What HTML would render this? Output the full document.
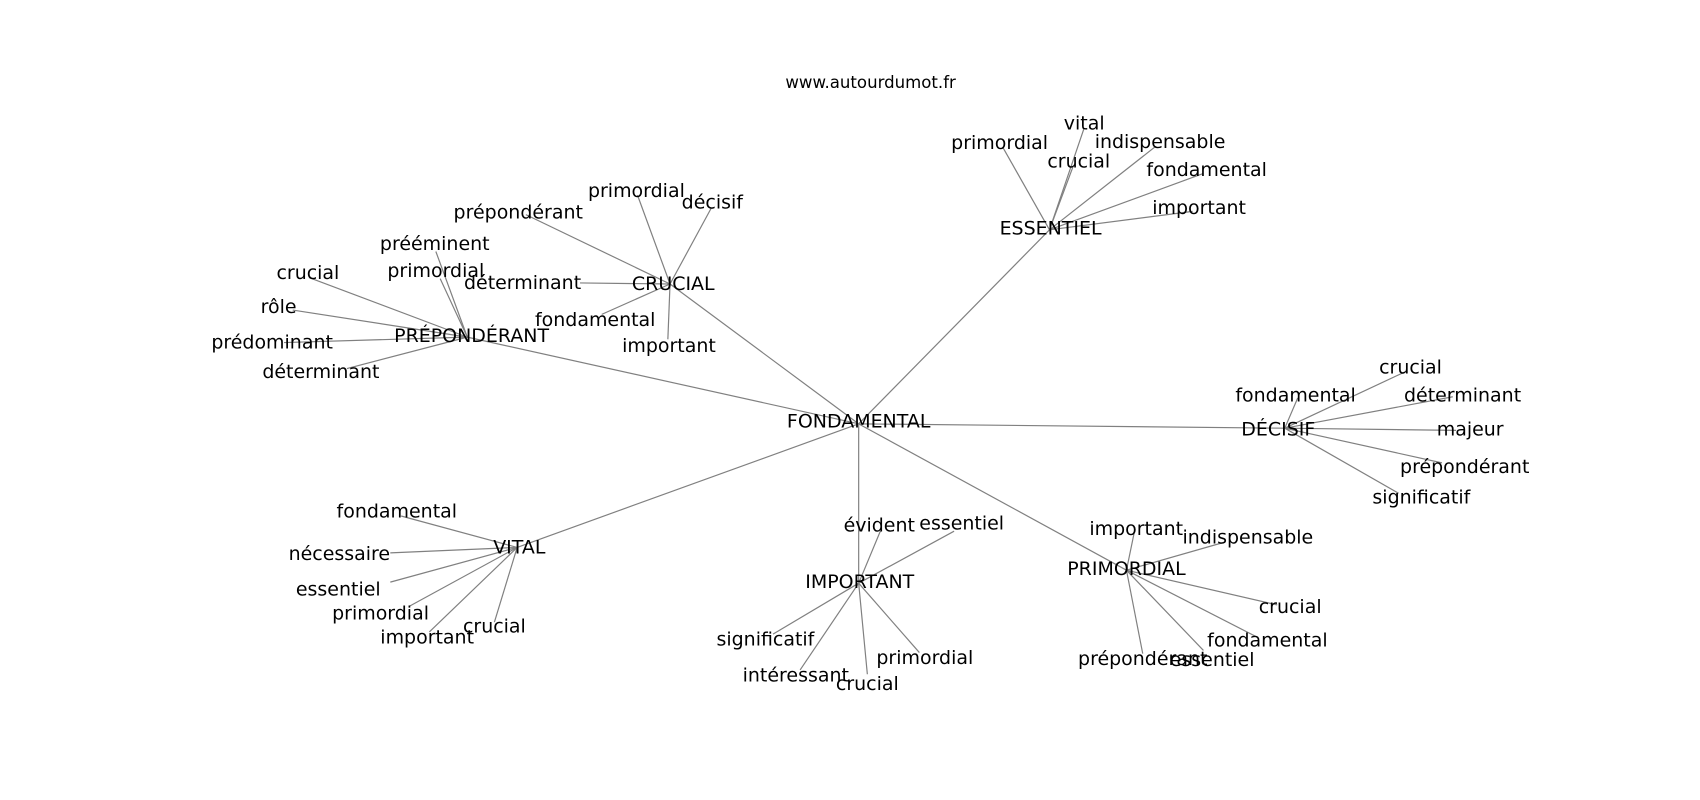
<!DOCTYPE html>
<html><head><meta charset="utf-8"><style>
html,body{margin:0;padding:0;background:#fff;}
svg{display:block;}
text{font-family:"DejaVu Sans","Liberation Sans",sans-serif;font-size:17.5px;fill:#000;text-anchor:middle;dominant-baseline:central;}
line{stroke:#808080;stroke-width:1.1;}
</style></head><body>
<svg width="1700" height="800" viewBox="0 0 1568 738" preserveAspectRatio="none" xmlns="http://www.w3.org/2000/svg">
<rect width="1568" height="738" fill="#fff"/>
<g>
<line x1="792" y1="391" x2="431" y2="311"/>
<line x1="792" y1="391" x2="618" y2="262"/>
<line x1="792" y1="391" x2="968" y2="212"/>
<line x1="792" y1="391" x2="1185" y2="395"/>
<line x1="792" y1="391" x2="1039" y2="526"/>
<line x1="792" y1="391" x2="792" y2="538"/>
<line x1="792" y1="391" x2="477" y2="505"/>
<line x1="431" y1="311" x2="285" y2="256"/>
<line x1="431" y1="311" x2="270" y2="286"/>
<line x1="431" y1="311" x2="262" y2="316"/>
<line x1="431" y1="311" x2="320" y2="340"/>
<line x1="431" y1="311" x2="402" y2="232"/>
<line x1="431" y1="311" x2="406" y2="257"/>
<line x1="618" y1="262" x2="485" y2="198"/>
<line x1="618" y1="262" x2="588" y2="180"/>
<line x1="618" y1="262" x2="656" y2="192"/>
<line x1="618" y1="262" x2="535" y2="261"/>
<line x1="618" y1="262" x2="555" y2="290"/>
<line x1="618" y1="262" x2="616" y2="313"/>
<line x1="968" y1="212" x2="925" y2="136"/>
<line x1="968" y1="212" x2="1000" y2="118"/>
<line x1="968" y1="212" x2="990" y2="153"/>
<line x1="968" y1="212" x2="1066" y2="135"/>
<line x1="968" y1="212" x2="1110" y2="160"/>
<line x1="968" y1="212" x2="1100" y2="195"/>
<line x1="1185" y1="395" x2="1296" y2="343"/>
<line x1="1185" y1="395" x2="1197" y2="367"/>
<line x1="1185" y1="395" x2="1340" y2="366"/>
<line x1="1185" y1="395" x2="1343" y2="397"/>
<line x1="1185" y1="395" x2="1330" y2="427"/>
<line x1="1185" y1="395" x2="1290" y2="455"/>
<line x1="477" y1="505" x2="370" y2="476"/>
<line x1="477" y1="505" x2="360" y2="510"/>
<line x1="477" y1="505" x2="360" y2="537"/>
<line x1="477" y1="505" x2="378" y2="559"/>
<line x1="477" y1="505" x2="396" y2="583"/>
<line x1="477" y1="505" x2="456" y2="574"/>
<line x1="792" y1="538" x2="812" y2="490"/>
<line x1="792" y1="538" x2="880" y2="490"/>
<line x1="792" y1="538" x2="713" y2="585"/>
<line x1="792" y1="538" x2="738" y2="618"/>
<line x1="792" y1="538" x2="800" y2="622"/>
<line x1="792" y1="538" x2="848" y2="602"/>
<line x1="1039" y1="526" x2="1046" y2="492"/>
<line x1="1039" y1="526" x2="1130" y2="500"/>
<line x1="1039" y1="526" x2="1178" y2="558"/>
<line x1="1039" y1="526" x2="1160" y2="588"/>
<line x1="1039" y1="526" x2="1110" y2="600"/>
<line x1="1039" y1="526" x2="1054" y2="603"/>
</g>
<text x="803" y="76" style="font-size:15.3px">www.autourdumot.fr</text>
<text x="792" y="389">FONDAMENTAL</text>
<text x="435" y="310">PRÉPONDÉRANT</text>
<text x="621" y="262">CRUCIAL</text>
<text x="969" y="211">ESSENTIEL</text>
<text x="1179" y="396">DÉCISIF</text>
<text x="1039" y="525">PRIMORDIAL</text>
<text x="793" y="537">IMPORTANT</text>
<text x="479" y="505">VITAL</text>

<text x="284" y="252">crucial</text>
<text x="257" y="283">rôle</text>
<text x="251" y="316">prédominant</text>
<text x="296" y="343">déterminant</text>
<text x="401" y="225">prééminent</text>
<text x="402" y="250">primordial</text>

<text x="478" y="196">prépondérant</text>
<text x="587" y="176">primordial</text>
<text x="657" y="187">décisif</text>
<text x="482" y="261">déterminant</text>
<text x="549" y="295">fondamental</text>
<text x="617" y="319">important</text>

<text x="922" y="132">primordial</text>
<text x="1000" y="114">vital</text>
<text x="995" y="149">crucial</text>
<text x="1070" y="131">indispensable</text>
<text x="1113" y="157">fondamental</text>
<text x="1106" y="192">important</text>

<text x="1301" y="339">crucial</text>
<text x="1195" y="365">fondamental</text>
<text x="1349" y="365">déterminant</text>
<text x="1356" y="396">majeur</text>
<text x="1351" y="431">prépondérant</text>
<text x="1311" y="459">significatif</text>

<text x="366" y="472">fondamental</text>
<text x="313" y="511">nécessaire</text>
<text x="312" y="544">essentiel</text>
<text x="351" y="566">primordial</text>
<text x="394" y="588">important</text>
<text x="456" y="578">crucial</text>

<text x="811" y="485">évident</text>
<text x="887" y="483">essentiel</text>
<text x="706" y="590">significatif</text>
<text x="734" y="623">intéressant</text>
<text x="800" y="631">crucial</text>
<text x="853" y="607">primordial</text>

<text x="1048" y="488">important</text>
<text x="1151" y="496">indispensable</text>
<text x="1190" y="560">crucial</text>
<text x="1169" y="591">fondamental</text>
<text x="1118" y="609">essentiel</text>
<text x="1054" y="608">prépondérant</text>
</svg>
</body></html>
